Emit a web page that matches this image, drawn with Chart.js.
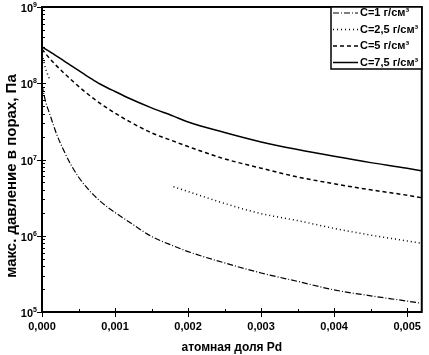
<!DOCTYPE html>
<html>
<head>
<meta charset="utf-8">
<script src="https://cdn.jsdelivr.net/npm/chart.js@4"></script>
<style>
  html, body { margin: 0; padding: 0; background: #fff; }
  canvas { display: block; }
</style>
</head>
<body>
<canvas id="chart" width="429" height="355"></canvas>
<script>
// atomic fraction of Pd (x axis)
const fractions = [0, 0.00005, 0.0001, 0.00015, 0.0002, 0.0003, 0.0004, 0.0005, 0.0006, 0.0007,
  0.0008, 0.0009, 0.001, 0.0012, 0.0015, 0.0018, 0.002, 0.0025, 0.003, 0.0035, 0.004, 0.0045,
  0.005, 0.0052];

// max pore pressure, Pa
const pressureC1 = [9.5e7, 5.7e7, 4.1e7, 2.95e7, 2.15e7, 1.3e7, 8.4e6, 5.9e6, 4.43e6, 3.48e6,
  2.82e6, 2.36e6, 2.02e6, 1.5e6, 9.8e5, 7.35e5, 6.2e5, 4.4e5, 3.25e5, 2.52e5, 1.95e5, 1.63e5,
  1.39e5, 1.3e5];
// the scan lost most of the start of this curve
const pressureC25 = [2.4e8, 1.55e8, 1.15e8, null, null, null, null, null, null, null,
  null, null, null, null, null, 4.4e6, 3.8e6, 2.65e6, 1.95e6, 1.58e6, 1.25e6, 1.02e6,
  8.55e5, 7.95e5];
const pressureC5 = [2.8e8, 2.44e8, 2.14e8, 1.9e8, 1.69e8, 1.36e8, 1.11e8, 9.1e7, 7.57e7, 6.37e7,
  5.42e7, 4.67e7, 4.06e7, 3.13e7, 2.24e7, 1.74e7, 1.48e7, 1.02e7, 7.7e6, 5.9e6, 4.8e6, 4.0e6,
  3.4e6, 3.15e6];
const pressureC75 = [3.0e8, 2.8e8, 2.62e8, 2.44e8, 2.27e8, 1.97e8, 1.7e8, 1.47e8, 1.27e8, 1.11e8,
  9.7e7, 8.67e7, 7.8e7, 6.3e7, 4.75e7, 3.7e7, 3.1e7, 2.26e7, 1.7e7, 1.35e7, 1.1e7, 9.1e6,
  7.7e6, 7.1e6];

const seriesLabels = ["C=1 г/см³", "C=2,5 г/см³", "C=5 г/см³", "C=7,5 г/см³"];

const xTicks = [0, 0.001, 0.002, 0.003, 0.004, 0.005];
const yTicks = [1e5, 1e6, 1e7, 1e8, 1e9];

const FONT = "'Liberation Sans', Arial, sans-serif";

function toPoints(ys) {
  return fractions.map((x, i) => ({ x: x, y: ys[i] }));
}

// frame, tick marks, 10^n labels, y title and the boxed legend, Origin style
const framePlugin = {
  id: "frame",
  afterDraw(chart) {
    const ctx = chart.ctx;
    const area = chart.chartArea;
    const xs = chart.scales.x;
    const ys = chart.scales.y;
    ctx.save();
    ctx.strokeStyle = "#000";
    ctx.fillStyle = "#000";

    ctx.lineWidth = 1;
    // y ticks: majors outward, minors inward
    yTicks.forEach(v => {
      const py = Math.round(ys.getPixelForValue(v)) + 0.5;
      ctx.beginPath();
      ctx.moveTo(area.left - 5, py);
      ctx.lineTo(area.left + 4, py);
      ctx.stroke();
      // label 10 with raised exponent
      const exp = String(Math.round(Math.log10(v)));
      ctx.font = "bold 7px " + FONT;
      const ew = ctx.measureText(exp).width;
      ctx.textBaseline = "alphabetic";
      ctx.textAlign = "right";
      ctx.fillText(exp, area.left - 5, py - 1);
      ctx.font = "bold 11px " + FONT;
      ctx.fillText("10", area.left - 5 - ew, py + 4);
    });
    for (let d = 5; d < 9; d++) {
      for (let m = 2; m < 10; m++) {
        const py = Math.round(ys.getPixelForValue(m * Math.pow(10, d))) + 0.5;
        ctx.beginPath();
        ctx.moveTo(area.left, py);
        ctx.lineTo(area.left + 3, py);
        ctx.stroke();
      }
    }
    // x ticks
    xTicks.forEach(v => {
      const px = Math.round(xs.getPixelForValue(v)) + 0.5;
      ctx.beginPath();
      ctx.moveTo(px, area.bottom + 5);
      ctx.lineTo(px, area.bottom - 4);
      ctx.stroke();
      if (v + 0.0005 < xs.max) {
        const mid = Math.round(xs.getPixelForValue(v + 0.0005)) + 0.5;
        ctx.beginPath();
        ctx.moveTo(mid, area.bottom);
        ctx.lineTo(mid, area.bottom - 3);
        ctx.stroke();
      }
    });

    // frame
    ctx.lineWidth = 2;
    ctx.strokeRect(area.left, area.top, area.right - area.left, area.bottom - area.top);

    // y axis title
    ctx.save();
    ctx.translate(12, 176);
    ctx.rotate(-Math.PI / 2);
    ctx.font = "bold 15px " + FONT;
    ctx.textAlign = "center";
    ctx.textBaseline = "middle";
    ctx.fillText("макс. давление в порах, Па", 0, 0);
    ctx.restore();

    // legend box
    const bx = 331, by = area.top, bw = area.right - 331, bh = 62;
    ctx.lineWidth = 1.5;
    ctx.fillStyle = "#fff";
    ctx.fillRect(bx, by, bw, bh);
    ctx.strokeRect(bx, by, bw, bh);
    ctx.font = "bold 11px " + FONT;
    ctx.textAlign = "left";
    ctx.textBaseline = "middle";
    ctx.fillStyle = "#000";
    chart.data.datasets.forEach((ds, i) => {
      const ly = by + 6 + i * 16.5;
      ctx.lineWidth = ds.borderWidth;
      ctx.setLineDash(ds.borderDash || []);
      ctx.beginPath();
      ctx.moveTo(bx + 2, ly);
      ctx.lineTo(bx + 27, ly);
      ctx.stroke();
      ctx.setLineDash([]);
      ctx.fillText(ds.label, bx + 29, ly);
    });
    ctx.restore();
  }
};

new Chart(document.getElementById("chart"), {
  type: "line",
  data: {
    datasets: [
      { label: seriesLabels[0], data: toPoints(pressureC1), borderDash: [6, 2, 1, 2], borderWidth: 1.2 },
      { label: seriesLabels[1], data: toPoints(pressureC25), borderDash: [1, 3], borderWidth: 1.5 },
      { label: seriesLabels[2], data: toPoints(pressureC5), borderDash: [4, 3], borderWidth: 1.5 },
      { label: seriesLabels[3], data: toPoints(pressureC75), borderDash: [], borderWidth: 1.5 }
    ].map(ds => Object.assign(ds, {
      borderColor: "#000",
      backgroundColor: "#000",
      pointRadius: 0,
      fill: false,
      cubicInterpolationMode: "monotone"
    }))
  },
  options: {
    responsive: false,
    devicePixelRatio: 1,
    animation: false,
    layout: { padding: { top: 7, right: 2, left: 0, bottom: 0 } },
    plugins: {
      legend: { display: false },
      tooltip: { enabled: false }
    },
    scales: {
      x: {
        type: "linear",
        min: 0,
        max: 0.0052,
        afterBuildTicks: scale => { scale.ticks = xTicks.map(v => ({ value: v })); },
        afterFit: scale => { scale.height = 43; },
        grid: { display: false, drawTicks: false },
        border: { display: false },
        ticks: {
          color: "#000",
          padding: 8,
          maxRotation: 0,
          font: { family: FONT, size: 11, weight: "bold" },
          callback: v => v.toFixed(3).replace(".", ",")
        },
        title: {
          display: true,
          text: "атомная доля Pd",
          color: "#000",
          padding: { top: 9, bottom: 0 },
          font: { family: FONT, size: 12, weight: "bold" }
        }
      },
      y: {
        type: "logarithmic",
        min: 1e5,
        max: 1e9,
        afterBuildTicks: scale => { scale.ticks = yTicks.map(v => ({ value: v })); },
        afterFit: scale => { scale.width = 42; },
        grid: { display: false, drawTicks: false },
        border: { display: false },
        ticks: { display: false },
        title: { display: false }
      }
    }
  },
  plugins: [framePlugin]
});
</script>
</body>
</html>
